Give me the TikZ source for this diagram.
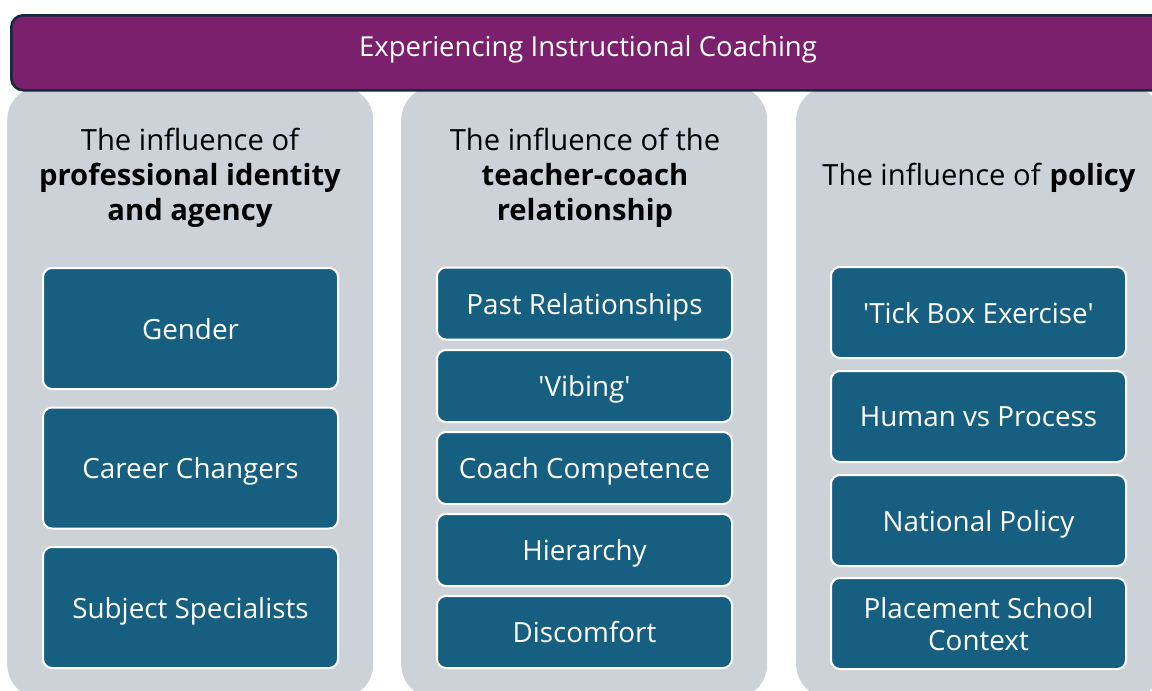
\documentclass[tikz,border=0pt]{standalone}
\usepackage{fontspec}
\setmainfont{Open Sans}
% a second family without the TeX input mapping, for straight quote marks
\newfontfamily\plainquote{Open Sans}
\definecolor{barpurple}{HTML}{7A206C}
\definecolor{barline}{HTML}{13293D}
\definecolor{panelgray}{HTML}{CDD2D9}
\definecolor{itemblue}{HTML}{175F80}
\newcommand{\sq}{{\plainquote '}}
\tikzset{
  panel/.style={fill=panelgray, draw=none, rounded corners=34pt, anchor=north west,
    minimum width=366pt, minimum height=612pt, inner sep=0pt},
  topbar/.style={fill=barpurple, draw=barline, line width=2.5pt, rounded corners=12pt,
    anchor=north west, minimum width=1170pt, minimum height=75pt, inner sep=0pt},
  heading/.style={align=center, text=black, font=\fontsize{29.2}{35}\selectfont},
  itembox/.style={fill=itemblue, draw=white, line width=2pt, rounded corners=9pt,
    text=white, align=center, minimum width=295pt, inner sep=0pt, text depth=0pt,
    font=\fontsize{27.8}{32}\selectfont},
  titletext/.style={text=white, font=\fontsize{27.5}{30}\selectfont}
}
\begin{document}
\begin{tikzpicture}[x=1pt,y=-1pt]
\useasboundingbox (0,0) rectangle (1152,691);
\clip (0,0) rectangle (1152,691);
\fill[white] (0,0) rectangle (1152,691);

% three gray columns
\node[panel] (p1) at (7,86) {};
\node[panel] (p2) at (401,86) {};
\node[panel] (p3) at (796,86) {};

% banner across the top
\node[topbar] (bar) at (10,14) {};
\node[titletext] (title) at (588,49) {Experiencing Instructional Coaching};

% column headings
\node[heading] (h1) at (190,178) {The influence of\\\textbf{professional identity}\\\textbf{and agency}};
\node[heading] (h2) at (585,178) {The influence of the\\\textbf{teacher-coach}\\\textbf{relationship}};
\node[heading] (h3) at (979,178) {The influence of \textbf{policy}};

% professional identity and agency
\node[itembox, minimum height=121pt] (a1) at (190.5,328.5) {Gender};
\node[itembox, minimum height=121pt] (a2) at (190.5,468) {Career Changers};
\node[itembox, minimum height=121pt] (a3) at (190.5,607.5) {Subject Specialists};

% teacher-coach relationship
\node[itembox, minimum height=72pt] (b1) at (584.5,303.5) {Past Relationships};
\node[itembox, minimum height=72pt] (b2) at (584.5,386) {\sq Vibing\sq};
\node[itembox, minimum height=72pt] (b3) at (584.5,468) {Coach Competence};
\node[itembox, minimum height=72pt] (b4) at (584.5,550) {Hierarchy};
\node[itembox, minimum height=72pt] (b5) at (584.5,632) {Discomfort};

% policy
\node[itembox, minimum height=91pt] (c1) at (978.5,312.5) {\sq Tick Box Exercise\sq};
\node[itembox, minimum height=91pt] (c2) at (978.5,416.5) {Human vs Process};
\node[itembox, minimum height=91pt] (c3) at (978.5,520.5) {National Policy};
\node[itembox, minimum height=91pt] (c4) at (978.5,623.5) {Placement School\\Context};
\end{tikzpicture}
\end{document}
